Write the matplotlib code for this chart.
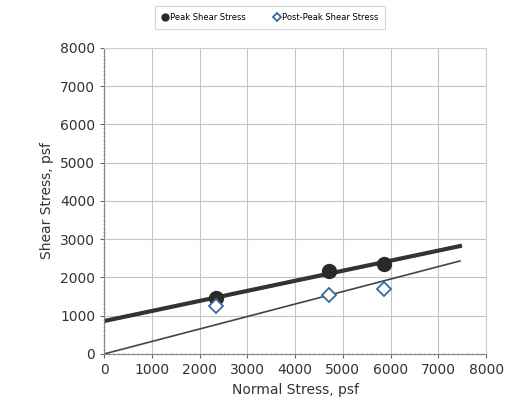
import matplotlib
matplotlib.use("Agg")
import matplotlib.pyplot as plt
from matplotlib.ticker import MultipleLocator

normal = [2350, 4700, 5870]
peak = [1450, 2170, 2340]
post_peak = [1250, 1530, 1700]
peak_line_x = [0, 7450]
peak_line_y = [860, 2820]
post_line_x = [0, 7450]
post_line_y = [0, 2430]

fig = plt.figure(figsize=(5.08, 4.13), dpi=100)
ax = fig.add_axes([0.205, 0.143, 0.752, 0.741])

ax.plot(peak_line_x, peak_line_y, color="#333333", lw=3, zorder=2)
ax.plot(post_line_x, post_line_y, color="#444444", lw=1.2, zorder=2)
l1, = ax.plot(normal, peak, "o", color="#2a2a2a", ms=10, zorder=3, label="Peak Shear Stress")
l2, = ax.plot(normal, post_peak, "D", mfc="white", mec="#3a6a9a", mew=1.3, ms=7.5, zorder=3,
              label="Post-Peak Shear Stress")

ax.set_xlim(0, 8000)
ax.set_ylim(0, 8000)
ax.xaxis.set_major_locator(MultipleLocator(1000))
ax.yaxis.set_major_locator(MultipleLocator(1000))
ax.xaxis.set_minor_locator(MultipleLocator(100))
ax.yaxis.set_minor_locator(MultipleLocator(100))
ax.grid(True, which="major", color="#c4c4c4", lw=0.8)
ax.tick_params(which="major", length=3, labelsize=10, colors="#666666", labelcolor="#333333")
ax.tick_params(which="minor", length=2, direction="inout", colors="#999999")
for s in ["top", "right"]:
    ax.spines[s].set_color("#cccccc")
for s in ["left", "bottom"]:
    ax.spines[s].set_color("#888888")
ax.set_xlabel("Normal Stress, psf", fontsize=10, color="#333333")
ax.set_ylabel("Shear Stress, psf", fontsize=10, color="#333333")

leg = fig.legend(handles=[l1, l2], loc="upper center", bbox_to_anchor=(0.532, 0.995), ncol=2,
                 fontsize=6, frameon=True, fancybox=False, edgecolor="#cccccc",
                 markerscale=0.5, handlelength=0.6, handletextpad=0.3, columnspacing=3.5,
                 borderpad=0.8)
leg.get_frame().set_linewidth(0.8)

fig.savefig("out.png", dpi=100)
